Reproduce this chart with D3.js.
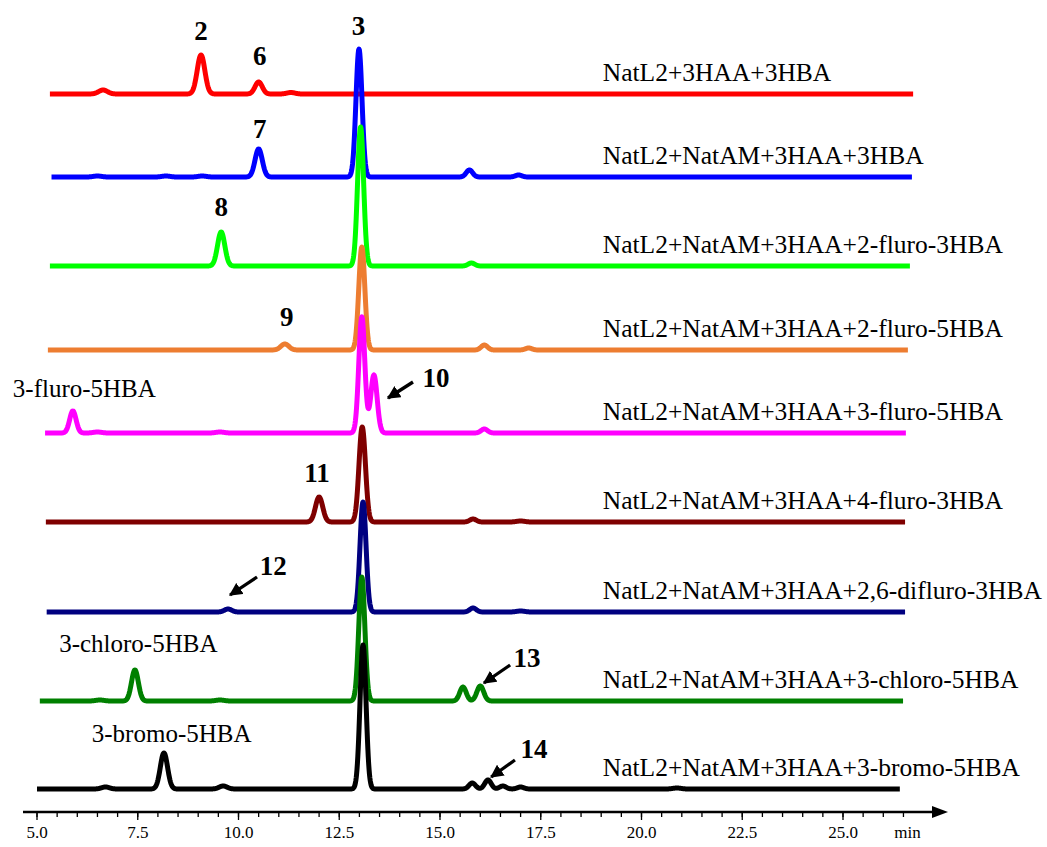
<!DOCTYPE html>
<html>
<head>
<meta charset="utf-8">
<script src="https://cdn.jsdelivr.net/npm/d3@7"></script>
<style>
  body { margin: 0; background: #fff; }
  svg { display: block; }
</style>
</head>
<body>
<div class="svg-div"></div>
<script>
// ---- data ----
var traceNames = ["NatL2+3HAA+3HBA", "NatL2+NatAM+3HAA+3HBA", "NatL2+NatAM+3HAA+2-fluro-3HBA",
    "NatL2+NatAM+3HAA+2-fluro-5HBA", "NatL2+NatAM+3HAA+3-fluro-5HBA", "NatL2+NatAM+3HAA+4-fluro-3HBA",
    "NatL2+NatAM+3HAA+2,6-difluro-3HBA", "NatL2+NatAM+3HAA+3-chloro-5HBA", "NatL2+NatAM+3HAA+3-bromo-5HBA"]
// baseline offset of each trace (signal units)
var traceOffsets = [718, 635, 546, 462, 379, 290, 200, 111, 23]
var traceStart = [5.32, 5.36, 5.32, 5.27, 5.2, 5.22, 5.24, 5.07, 5.0]
var traceEnd = [26.74, 26.71, 26.66, 26.61, 26.56, 26.54, 26.54, 26.49, 26.41]
// peaks: [retention time (min), height, sigma (min)]
var tracePeaks = [
    [[6.64, 4, 0.11], [9.07, 39, 0.095], [10.5, 12, 0.09], [11.3, 1.5, 0.1]],
    [[6.5, 1, 0.1], [8.2, 1, 0.1], [9.1, 1, 0.1], [10.5, 28, 0.09], [12.99, 128, 0.075], [15.73, 7, 0.08], [16.95, 2, 0.08]],
    [[9.57, 34, 0.09], [13.03, 139, 0.075], [15.78, 3, 0.08]],
    [[11.15, 6, 0.1], [13.06, 103, 0.075], [16.1, 5, 0.08], [17.2, 2, 0.08]],
    [[5.89, 22, 0.08], [6.5, 1, 0.1], [9.54, 1, 0.1], [13.06, 116, 0.075], [13.36, 58, 0.08], [16.1, 4, 0.08]],
    [[12.0, 25, 0.09], [13.07, 95, 0.08], [15.82, 3, 0.08], [17.0, 1, 0.1]],
    [[9.74, 3, 0.09], [13.09, 110, 0.075], [15.82, 4, 0.08], [17.0, 1, 0.1]],
    [[6.56, 1, 0.1], [7.43, 31, 0.085], [9.54, 1, 0.1], [13.06, 124, 0.075], [15.57, 14, 0.08], [16.0, 15, 0.085]],
    [[6.7, 2, 0.1], [8.15, 36, 0.09], [9.62, 3, 0.1], [13.09, 144, 0.075], [15.8, 6, 0.08], [16.19, 9, 0.08], [16.56, 3, 0.08], [17.0, 2, 0.08], [20.88, 1, 0.1]]
]
var traceColors = ["#ff0000", "#0000ff", "#00ff00", "#ed7d31", "#ff00ff", "#7f0000", "#000080", "#008000", "#000000"]

// peak numbers: [text, time, signal]
var peakLabels = [["2", 9.07, 772], ["6", 10.53, 747], ["3", 12.98, 777], ["7", 10.53, 674],
    ["8", 9.57, 596], ["9", 11.2, 486], ["10", 14.9, 425], ["11", 11.95, 330],
    ["12", 10.86, 237], ["13", 17.16, 145], ["14", 17.33, 54]]
// arrows: [t0, v0, t1, v1] (tail -> head)
var arrows = [[14.33, 430, 13.71, 414], [10.46, 235, 9.79, 217], [16.74, 147, 16.09, 129], [16.86, 52, 16.27, 35]]
// substrate labels: [text, time, signal]
var sideLabels = [["3-fluro-5HBA", 4.4, 415], ["3-chloro-5HBA", 5.55, 160], ["3-bromo-5HBA", 6.36, 70]]
var majorTicks = [5.0, 7.5, 10.0, 12.5, 15.0, 17.5, 20.0, 22.5, 25.0]
var minorTicks = d3.range(5.0, 26.51, 0.5)

// ---- drawing ----
var width = 1047, height = 847
var serif = "'Liberation Serif', 'Times New Roman', Times, serif"
var svg = d3.select(".svg-div").append("svg")
    .attr("width", width).attr("height", height)
    .attr("font-family", serif)

var x = d3.scaleLinear().domain([5, 25]).range([37, 843])
var y = d3.scaleLinear().domain([0, 800]).range([812, 12])

function signal(t, i) {
    let s = traceOffsets[i]
    tracePeaks[i].forEach(function (p) {
        s += p[1] * Math.exp(-0.5 * Math.pow((t - p[0]) / p[2], 2))
    })
    return s
}

var line = d3.line().x(d => x(d[0])).y(d => y(d[1]))

var gTraces = svg.append("g").attr("class", "g-traces")
traceNames.forEach(function (name, i) {
    let pts = d3.range(traceStart[i], traceEnd[i], 0.01).map(t => [t, signal(t, i)])
    pts.push([traceEnd[i], signal(traceEnd[i], i)])
    gTraces.append("path")
        .attr("d", line(pts))
        .attr("fill", "none")
        .attr("stroke", traceColors[i])
        .attr("stroke-width", 5)
        .attr("stroke-linejoin", "round")
        .attr("stroke-linecap", "butt")
    svg.append("text")
        .attr("x", x(19.04))
        .attr("y", y(traceOffsets[i] + 13.5))
        .attr("font-size", 25.5)
        .attr("fill", "#000")
        .text(name)
})

// peak number labels
svg.selectAll(".peak-label").data(peakLabels).join("text")
    .attr("class", "peak-label")
    .attr("x", d => x(d[1]))
    .attr("y", d => y(d[2]))
    .attr("text-anchor", "middle")
    .attr("font-size", 27)
    .attr("font-weight", "bold")
    .text(d => d[0])

svg.selectAll(".side-label").data(sideLabels).join("text")
    .attr("class", "side-label")
    .attr("x", d => x(d[1]))
    .attr("y", d => y(d[2]))
    .attr("font-size", 25)
    .text(d => d[0])

// arrows
svg.append("defs").append("marker")
    .attr("id", "head")
    .attr("viewBox", "0 0 10 10")
    .attr("refX", 9).attr("refY", 5)
    .attr("markerWidth", 4).attr("markerHeight", 4)
    .attr("markerUnits", "strokeWidth")
    .attr("orient", "auto")
    .append("path").attr("d", "M0,0 L10,5 L0,10 z").attr("fill", "#000")

svg.selectAll(".arrow").data(arrows).join("line")
    .attr("class", "arrow")
    .attr("x1", d => x(d[0])).attr("y1", d => y(d[1]))
    .attr("x2", d => x(d[2])).attr("y2", d => y(d[3]))
    .attr("stroke", "#000")
    .attr("stroke-width", 3.3)
    .attr("marker-end", "url(#head)")

// x axis with arrow
var axisY = y(0)
var gAxis = svg.append("g").attr("class", "g-xaxis")
gAxis.append("line")
    .attr("x1", 23).attr("x2", 936)
    .attr("y1", axisY).attr("y2", axisY)
    .attr("stroke", "#000").attr("stroke-width", 2.5)
gAxis.append("path")
    .attr("d", "M" + 948 + "," + axisY + " L" + 932 + "," + (axisY - 6) + " L" + 932 + "," + (axisY + 6) + " Z")
    .attr("fill", "#000")

gAxis.selectAll(".minor").data(minorTicks).join("line")
    .attr("class", "minor")
    .attr("x1", d => x(d)).attr("x2", d => x(d))
    .attr("y1", axisY).attr("y2", axisY + 5)
    .attr("stroke", "#000").attr("stroke-width", 1.3)
gAxis.selectAll(".major").data(majorTicks).join("line")
    .attr("class", "major")
    .attr("x1", d => x(d)).attr("x2", d => x(d))
    .attr("y1", axisY).attr("y2", axisY + 8)
    .attr("stroke", "#000").attr("stroke-width", 1.3)
gAxis.selectAll(".tick-label").data(majorTicks).join("text")
    .attr("class", "tick-label")
    .attr("x", d => x(d))
    .attr("y", axisY + 26)
    .attr("text-anchor", "middle")
    .attr("font-size", 17)
    .text(d => d3.format(".1f")(d))
gAxis.append("text")
    .attr("x", x(26.6))
    .attr("y", axisY + 26)
    .attr("text-anchor", "middle")
    .attr("font-size", 17)
    .text("min")
</script>
</body>
</html>
